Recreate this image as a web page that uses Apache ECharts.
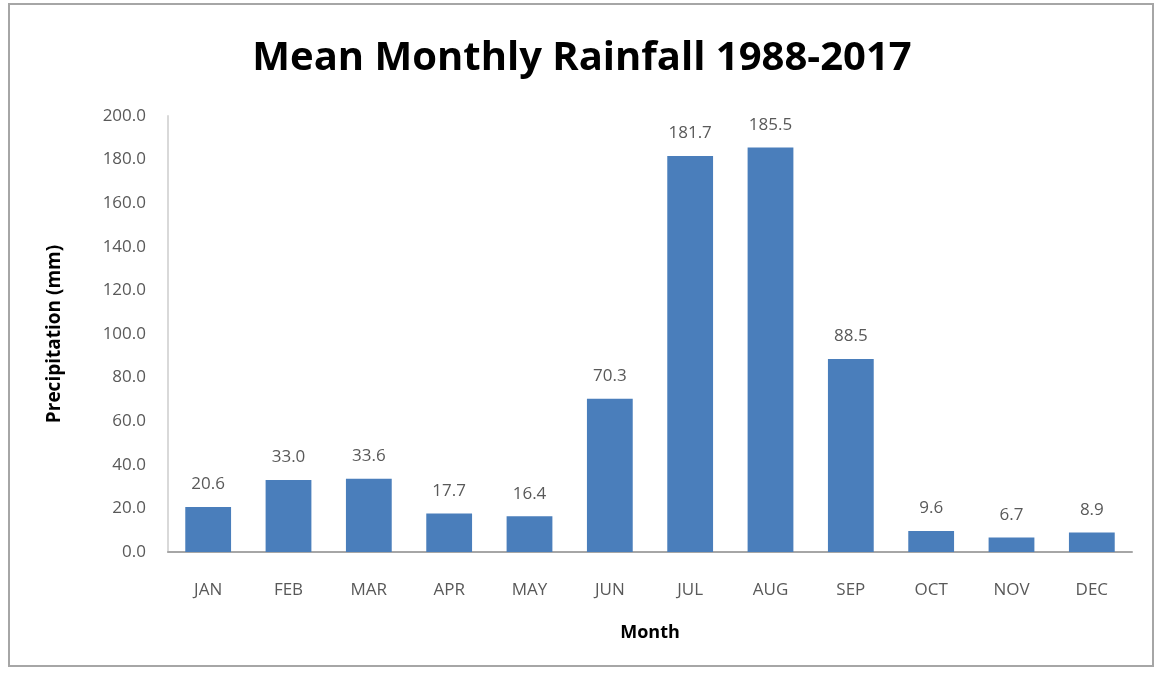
<!DOCTYPE html>
<html>
<head>
<meta charset="utf-8">
<script src="https://cdn.jsdelivr.net/npm/echarts@6/dist/echarts.min.js"></script>
<style>
html, body { margin: 0; padding: 0; background: #fff; }
#frame { position: absolute; left: 8px; top: 3px; width: 1146px; height: 664px; border: 2px solid #a6a6a6; box-sizing: border-box; }
#main { position: absolute; left: 0; top: 0; width: 1164px; height: 675px; }
</style>
</head>
<body>
<div id="frame"></div>
<div id="main"></div>
<script>
// 月份与降水量 (mm)
var months = ['JAN', 'FEB', 'MAR', 'APR', 'MAY', 'JUN', 'JUL', 'AUG', 'SEP', 'OCT', 'NOV', 'DEC'];
var rainfall = [20.6, 33.0, 33.6, 17.7, 16.4, 70.3, 181.7, 185.5, 88.5, 9.6, 6.7, 8.9];

var chart = echarts.init(document.getElementById('main'));

var option = {
    animation: false,
    title: {
        text: 'Mean Monthly Rainfall 1988-2017',
        left: 'center',
        top: 34,
        textStyle: {
            fontFamily: 'Open Sans',
            fontWeight: 'bold',
            fontSize: 40,
            color: '#000'
        }
    },
    grid: {
        left: 168,
        right: 32,
        top: 116,
        bottom: 123
    },
    xAxis: {
        type: 'category',
        data: months,
        name: 'Month',
        nameLocation: 'middle',
        nameGap: 72,
        nameTextStyle: { fontFamily: 'Open Sans', fontWeight: 'bold', fontSize: 18, color: '#000' },
        axisLine: { lineStyle: { color: '#a6a6a6', width: 2 } },
        axisTick: { show: false },
        axisLabel: { fontFamily: 'Open Sans', fontSize: 17, color: '#595959', margin: 30 }
    },
    yAxis: {
        type: 'value',
        min: 0,
        max: 200,
        interval: 20,
        name: 'Precipitation (mm)',
        nameLocation: 'middle',
        nameGap: 104,
        nameTextStyle: { fontFamily: 'Open Sans', fontWeight: 'bold', fontSize: 19, color: '#000' },
        axisLine: { show: true, lineStyle: { color: '#d9d9d9', width: 2 } },
        axisTick: { show: false },
        splitLine: { show: false },
        axisLabel: {
            fontFamily: 'Open Sans',
            fontSize: 17,
            color: '#595959',
            margin: 22,
            formatter: function (v) { return v.toFixed(1); }
        }
    },
    series: [
        {
            type: 'bar',
            data: rainfall,
            barWidth: '57%',
            itemStyle: { color: '#4a7ebb' },
            label: {
                show: true,
                position: 'top',
                distance: 14,
                fontFamily: 'Open Sans',
                fontSize: 17,
                color: '#595959',
                formatter: function (p) { return p.value.toFixed(1); }
            }
        }
    ]
};

chart.setOption(option);
</script>
</body>
</html>
